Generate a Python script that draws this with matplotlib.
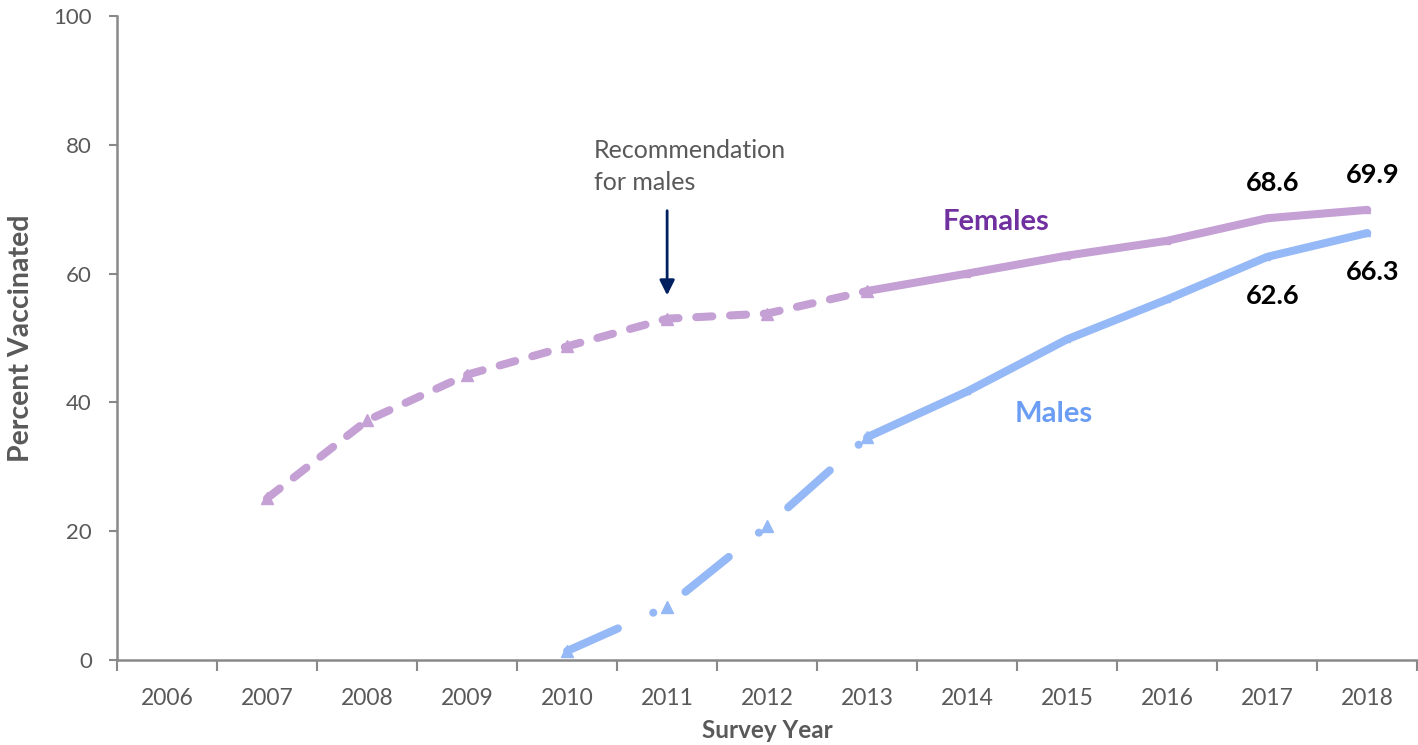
import matplotlib
matplotlib.use('Agg')
import matplotlib.pyplot as plt
import numpy as np

plt.rcParams['font.family'] = ['Lato', 'DejaVu Sans']

# Survey data (NIS-Teen, >=1 dose HPV)
years = ['2006', '2007', '2008', '2009', '2010', '2011', '2012',
         '2013', '2014', '2015', '2016', '2017', '2018']
females = [np.nan, 25.1, 37.2, 44.3, 48.7, 53.0, 53.8, 57.3, 60.0, 62.8, 65.1, 68.6, 69.9]
males = [np.nan, np.nan, np.nan, np.nan, 1.4, 8.3, 20.8, 34.6, 41.7, 49.8, 56.0, 62.6, 66.3]
split_year = '2013'   # recommendation change -> solid line from here on
labelled_years = ['2017', '2018']

female_color = '#C4A0D4'
male_color = '#95B8F6'
gray = '#595959'

fig = plt.figure(figsize=(14.18, 7.45), dpi=100)
ax = fig.add_axes([117 / 1418, 1 - 660 / 745, 1 - 117 / 1418 - 0.0005, 644 / 745])

x = np.arange(len(years))
f = np.array(females)
m = np.array(males)
s = years.index(split_year)

lw = 5.8
# dashed part before the split
ax.plot(x[:s + 1], f[:s + 1], color=female_color, lw=lw, dashes=(2.0, 2.2),
        dash_capstyle='round', marker='^', markersize=9, zorder=3)
ax.plot(x[s:], f[s:], color=female_color, lw=lw, solid_capstyle='round',
        marker='^', markersize=5, zorder=3)

ax.plot(x[:s + 1], m[:s + 1], color=male_color, lw=lw, dashes=(6.9, 4.8, 0.01, 4.8),
        dash_capstyle='round', marker='^', markersize=9, zorder=3)
ax.plot(x[s:], m[s:], color=male_color, lw=lw, solid_capstyle='round',
        marker='^', markersize=5, zorder=3)

# data labels for the last two years
for yr in labelled_years:
    i = years.index(yr)
    ax.annotate(f'{females[i]:.1f}', (x[i], females[i]), xytext=(4, 25),
                textcoords='offset points', ha='center', va='center',
                fontsize=19.5, fontweight='bold', color='black')
    ax.annotate(f'{males[i]:.1f}', (x[i], males[i]), xytext=(4, -28),
                textcoords='offset points', ha='center', va='center',
                fontsize=19.5, fontweight='bold', color='black')

# series labels
ax.text(8.29, 68.0, 'Females', ha='center', va='center', fontsize=21,
        fontweight='bold', color='#7030A0')
ax.text(8.86, 38.2, 'Males', ha='center', va='center', fontsize=21,
        fontweight='bold', color='#6A9DF3')

# recommendation arrow
rec = years.index('2011')
ax.annotate('', xy=(rec, 56.2), xytext=(rec, 70.2),
            arrowprops=dict(arrowstyle='-|>,head_length=0.9,head_width=0.45',
                            color='#002060', lw=2))
ax.text(4.27, 76.6, 'Recommendation\nfor males', ha='left', va='center',
        fontsize=18, color=gray, linespacing=1.5)

# axes styling
ax.set_xlim(-0.5, len(years) - 0.5)
ax.set_ylim(0, 100)
ax.set_yticks(np.arange(0, 101, 20))
ax.set_xticks(np.arange(-0.5, len(years), 1))
ax.set_xticklabels([])
ax.set_xticks(x, minor=True)
ax.set_xticklabels(years, minor=True)
ax.tick_params(axis='x', which='major', length=8, width=1.5, color='#898989')
ax.tick_params(axis='x', which='minor', length=0, pad=20, labelsize=16.5, labelcolor=gray)
ax.tick_params(axis='y', length=6, width=1.5, color='#898989', pad=12,
               labelsize=16, labelcolor=gray)

for side in ['top', 'right']:
    ax.spines[side].set_visible(False)
for side in ['left', 'bottom']:
    ax.spines[side].set_color('#898989')
    ax.spines[side].set_linewidth(1.8)

ax.set_ylabel('Percent Vaccinated', fontsize=20.5, fontweight='bold', color=gray, labelpad=14)
ax.set_xlabel('Survey Year', fontsize=17.5, fontweight='bold', color=gray, labelpad=7)

plt.savefig('out.png', dpi=100)
plt.close()
